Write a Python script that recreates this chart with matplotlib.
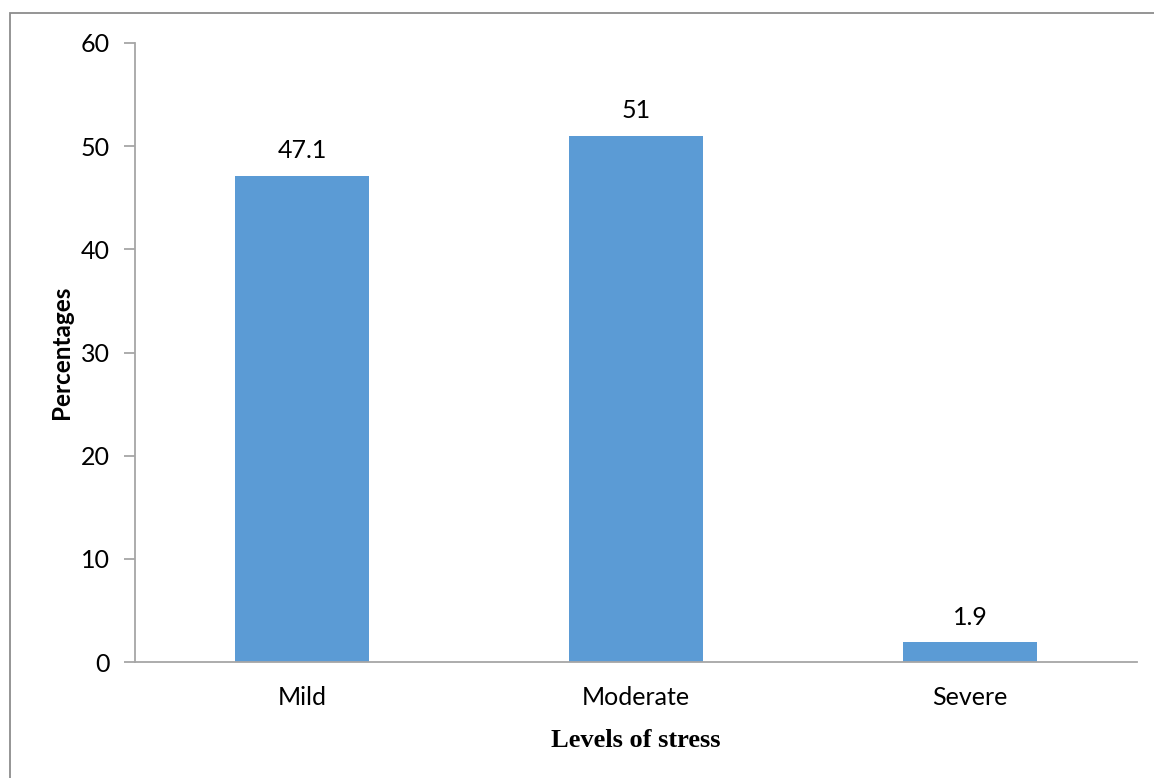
import matplotlib
matplotlib.use("Agg")
import matplotlib.pyplot as plt
from matplotlib.patches import Rectangle

categories = ["Mild", "Moderate", "Severe"]
percentages = [47.1, 51, 1.9]
value_labels = ["47.1", "51", "1.9"]
y_ticks = [0, 10, 20, 30, 40, 50, 60]

W, H = 1154, 778
fig = plt.figure(figsize=(W / 100, H / 100), dpi=100)
sans = ["Lato", "DejaVu Sans"]

# chart frame (top and left edges visible)
frame = Rectangle((10 / W, -0.05), 1.2, 1 - 13 / H + 0.05, transform=fig.transFigure,
                  fill=False, edgecolor="#8c8c8c", linewidth=1.3)
fig.patches.append(frame)

ax = fig.add_axes([135 / W, 1 - 662 / H, (1137 - 135) / W, (662 - 43) / H])
x = range(len(categories))
ax.bar(x, percentages, width=0.4, color="#5B9BD5")
ax.set_xlim(-0.5, len(categories) - 0.5)
ax.set_ylim(0, 60)
ax.set_yticks(y_ticks)
ax.set_xticks(list(x))
ax.set_xticklabels(categories, fontsize=18, family=sans)
ax.set_yticklabels([str(t) for t in y_ticks], fontsize=18, family=sans)

for s in ["top", "right"]:
    ax.spines[s].set_visible(False)
for s in ["left", "bottom"]:
    ax.spines[s].set_color("#a6a6a6")
    ax.spines[s].set_linewidth(1.3)
ax.tick_params(axis="y", direction="out", length=8, color="#a6a6a6", width=1.3, pad=10)
ax.tick_params(axis="x", length=0, pad=17)

for xi, v, lab in zip(x, percentages, value_labels):
    ax.annotate(lab, (xi, v), xytext=(0, 10), textcoords="offset points",
                ha="center", va="bottom", fontsize=18, family=sans)

ax.set_ylabel("Percentages", fontsize=17.5, fontweight="bold", family=sans, labelpad=6)
ax.set_xlabel("Levels of stress", fontsize=19, fontweight="bold",
              family=["Liberation Serif", "DejaVu Serif"], labelpad=15)

fig.savefig("out.png", dpi=100)
